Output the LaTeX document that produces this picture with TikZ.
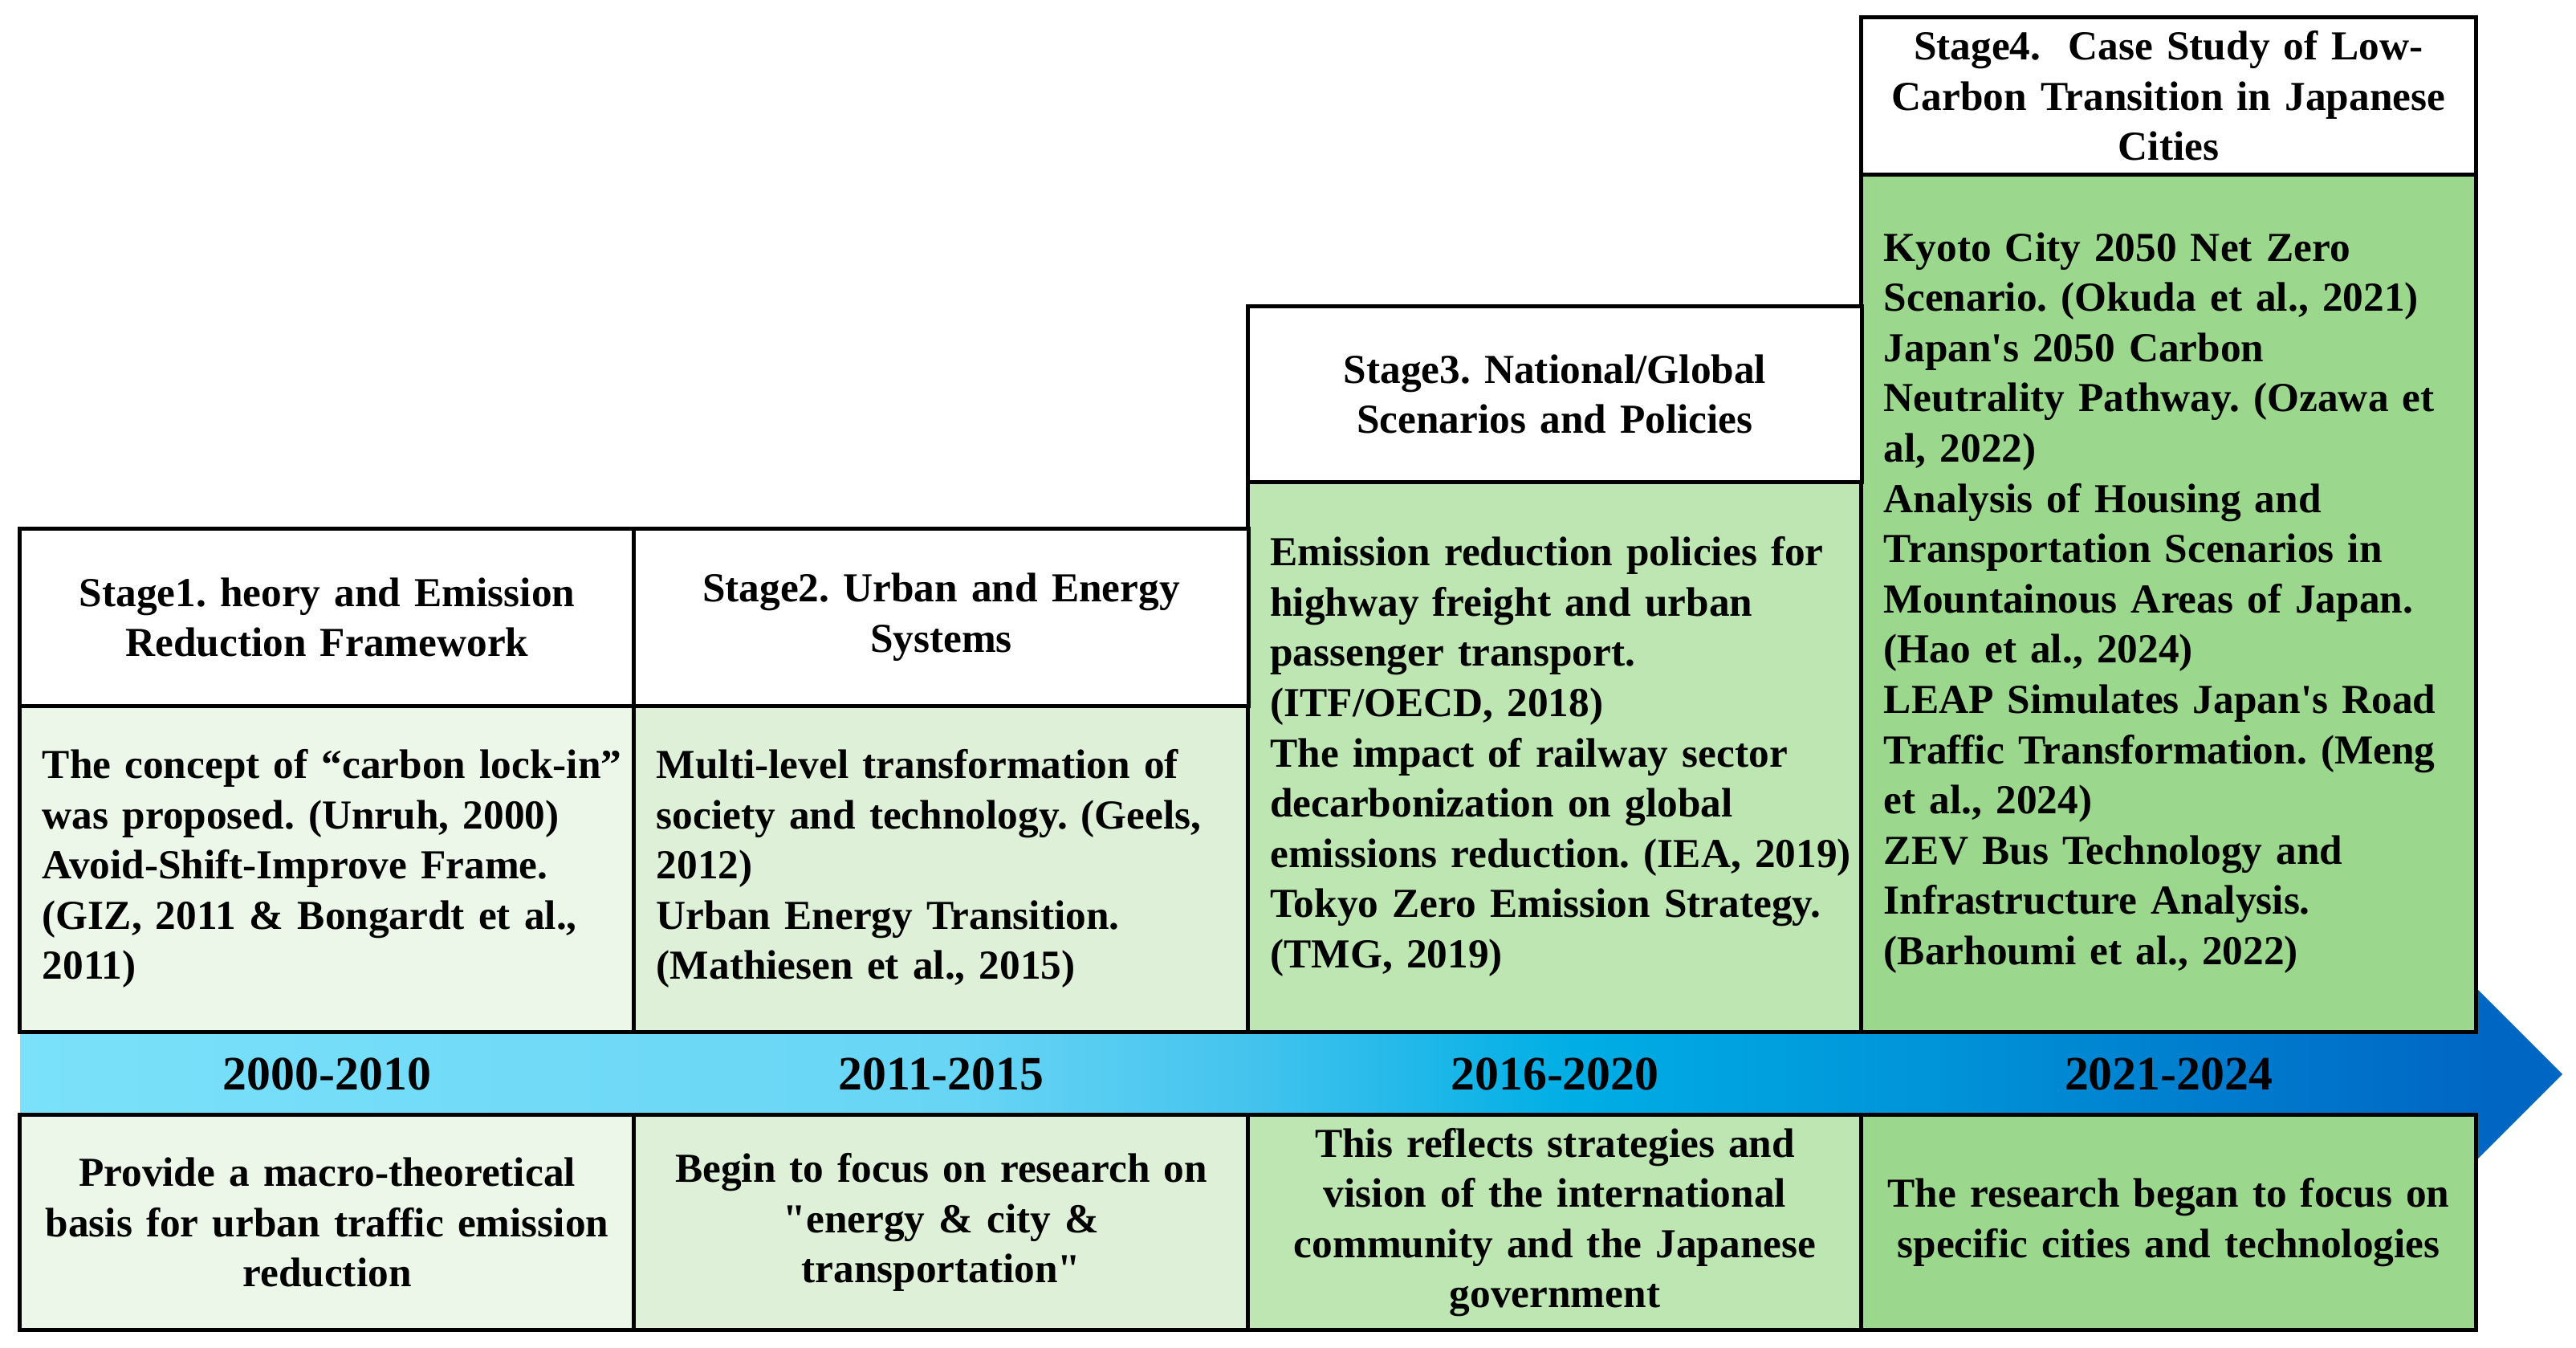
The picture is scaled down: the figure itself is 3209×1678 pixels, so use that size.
\documentclass[tikz,border=0pt]{standalone}
\usepackage{fontspec}
\newfontfamily\tnr{Liberation Serif}
\definecolor{fillA}{HTML}{ECF6E9}
\definecolor{fillB}{HTML}{DFF0D9}
\definecolor{fillC}{HTML}{BDE6B3}
\definecolor{fillD}{HTML}{9BD88D}
\definecolor{bandA}{HTML}{7BE1FA}
\definecolor{bandB}{HTML}{68D5F5}
\definecolor{bandC}{HTML}{45C4EE}
\definecolor{bandD}{HTML}{00AEE5}
\definecolor{bandE}{HTML}{0094D8}
\definecolor{bandF}{HTML}{0066C4}
\pgfdeclarehorizontalshading{bandshade}{100bp}{color(0bp)=(bandA); color(25bp)=(bandA); color(43.5bp)=(bandB); color(49bp)=(bandC); color(55.5bp)=(bandD); color(62.5bp)=(bandE); color(73.5bp)=(bandF); color(75bp)=(bandF); color(100bp)=(bandF)}
\begin{document}
\hyphenpenalty=10000
\exhyphenpenalty=10000
\frenchspacing
\begin{tikzpicture}[x=0.01cm,y=-0.01cm,
  txt/.style={font=\tnr\bfseries\fontsize{14.6}{17.8}\selectfont},
  cell/.style={txt, draw=black, line width=1.4pt, minimum width=7.65cm, inner ysep=0pt},
  hdr/.style={cell, fill=white, align=center, text width=7.2cm, inner xsep=0.225cm},
  body/.style={cell, align=left, text width=7.4cm, inner xsep=0.125cm},
  note/.style={cell, align=center, text width=7.2cm, inner xsep=0.225cm},
  year/.style={font=\tnr\bfseries\fontsize{17}{20}\selectfont, inner sep=0pt}]
\useasboundingbox (0,0) rectangle (3209,1678);

% timeline arrow
\shade[shading=bandshade] (25,1287) -- (3087,1287) -- (3087,1233) -- (3192,1338) -- (3087,1443) -- (3087,1387) -- (25,1387) -- cycle;

% content boxes
\node[body, fill=fillA, minimum height=4.06cm] (c1) at (407.5,1082) {\leftskip=0.155cm The concept of “carbon lock-in”\\was proposed. (Unruh, 2000)\\Avoid-Shift-Improve Frame.\\(GIZ, 2011 \& Bongardt et al.,\\2011)\par};
\node[body, fill=fillB, minimum height=4.06cm] (c2) at (1172.5,1082) {\leftskip=0.155cm Multi-level transformation of\\society and technology. (Geels,\\2012)\\Urban Energy Transition.\\(Mathiesen et al., 2015)\par};
\node[body, fill=fillC, minimum height=6.85cm] (c3) at (1937,942.5) {\leftskip=0.155cm Emission reduction policies for\\highway freight and urban\\passenger transport.\\(ITF/OECD, 2018)\\The impact of railway sector\\decarbonization on global\\emissions reduction. (IEA, 2019)\\Tokyo Zero Emission Strategy.\\(TMG, 2019)\par};
\node[body, fill=fillD, minimum height=10.68cm] (c4) at (2701.5,751) {\leftskip=0.155cm Kyoto City 2050 Net Zero\\Scenario. (Okuda et al., 2021)\\Japan's 2050 Carbon\\Neutrality Pathway. (Ozawa et\\al, 2022)\\Analysis of Housing and\\Transportation Scenarios in\\Mountainous Areas of Japan.\\(Hao et al., 2024)\\LEAP Simulates Japan's Road\\Traffic Transformation. (Meng\\et al., 2024)\\ZEV Bus Technology and\\Infrastructure Analysis.\\(Barhoumi et al., 2022)\par};

% headers
\node[hdr, minimum height=2.20cm] (h1) at (407.5,769) {Stage1. heory and Emission\\Reduction Framework};
\node[hdr, minimum height=2.20cm] (h2) at (1172.5,769) {Stage2. Urban and Energy\\Systems};
\node[hdr, minimum height=2.18cm] (h3) at (1937,491) {Stage3. National/Global\\Scenarios and Policies};
\node[hdr, minimum height=1.95cm] (h4) at (2701.5,119.5) {Stage4.\ \ Case Study of Low-\\Carbon Transition in Japanese\\Cities};

% years
\node[year] (y1) at (407.5,1338) {2000-2010};
\node[year] (y2) at (1172.5,1338) {2011-2015};
\node[year] (y3) at (1937,1338) {2016-2020};
\node[year] (y4) at (2701.5,1338) {2021-2024};

% bottom notes
\node[note, fill=fillA, minimum height=2.67cm] (b1) at (407.5,1522.5) {Provide a macro-theoretical\\basis for urban traffic emission\\reduction};
\node[note, fill=fillB, minimum height=2.67cm] (b2) at (1172.5,1522.5) {Begin to focus on research on\\"energy \& city \&\\transportation"};
\node[note, fill=fillC, minimum height=2.67cm] (b3) at (1937,1522.5) {This reflects strategies and\\vision of the international\\community and the Japanese\\government};
\node[note, fill=fillD, minimum height=2.67cm] (b4) at (2701.5,1522.5) {The research began to focus on\\specific cities and technologies};
\end{tikzpicture}
\end{document}
